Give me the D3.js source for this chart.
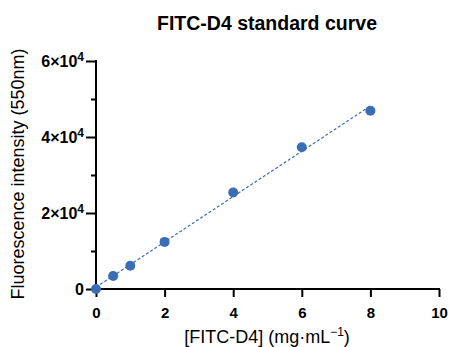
<!DOCTYPE html>
<html>
<head>
<meta charset="utf-8">
<script src="https://cdn.jsdelivr.net/npm/d3@7"></script>
<style>
  body { margin: 0; background: #fff; }
  text { font-family: "Liberation Sans", Arial, sans-serif; }
</style>
</head>
<body>
<script>
const width = 449;
const height = 347;

// data
const conc = [0, 0.5, 1, 2, 4, 6, 8];
const fluor = [0, 3400, 6100, 12400, 25400, 37300, 46900];
const xTicks = [0, 2, 4, 6, 8, 10];
const yMajor = [0, 20000, 40000, 60000];
const yMinor = [10000, 30000, 50000];

const color = "#3b6db5";

let svg = d3.select("body").append("svg").attr("width", width).attr("height", height);

let x = d3.scaleLinear().domain([0, 10]).range([96, 439]);
let y = d3.scaleLinear().domain([0, 60000]).range([289, 61]);

// linear regression for the dashed fit line
const n = conc.length;
const mx = d3.mean(conc), my = d3.mean(fluor);
let sxy = 0, sxx = 0;
for (let i = 0; i < n; i++) {
    sxy += (conc[i] - mx) * (fluor[i] - my);
    sxx += (conc[i] - mx) * (conc[i] - mx);
}
const slope = sxy / sxx;
const intercept = my - slope * mx;

// axes
let xAxis = svg.append("g").attr("transform", "translate(0,289)")
    .call(d3.axisBottom(x).tickValues(xTicks).tickSize(8).tickPadding(10).tickFormat(d3.format("d")));
let yAxis = svg.append("g").attr("transform", "translate(96,0)")
    .call(d3.axisLeft(y).tickValues(yMajor).tickSize(10).tickFormat(""));
let yMinorAxis = svg.append("g").attr("transform", "translate(96,0)")
    .call(d3.axisLeft(y).tickValues(yMinor).tickSize(5).tickFormat(""));

svg.selectAll(".domain").attr("stroke", "#000").attr("stroke-width", 2);
svg.selectAll(".tick line").attr("stroke", "#000").attr("stroke-width", 2);
yMinorAxis.select(".domain").remove();
// plain axis lines without outer ticks
xAxis.select(".domain").attr("d", "M95,0H440");
yAxis.select(".domain").attr("d", "M0,290V60");

xAxis.selectAll(".tick text")
    .attr("font-size", 15).attr("font-weight", "bold").attr("fill", "#000")
    .attr("font-family", "Liberation Sans, Arial, sans-serif");

// y tick labels with superscript exponent
yAxis.selectAll(".tick").each(function(d) {
    let t = d3.select(this).select("text")
        .attr("font-size", 16).attr("font-weight", "bold").attr("fill", "#000")
        .attr("font-family", "Liberation Sans, Arial, sans-serif")
        .attr("x", -12).attr("dy", "0.36em");
    if (d === 0) {
        t.text("0");
    } else {
        t.text(null);
        t.append("tspan").text((d / 10000) + "×10");
        t.append("tspan").attr("dy", "-6").attr("font-size", 12).text("4");
    }
});

// fit line
svg.append("line")
    .attr("x1", x(0)).attr("y1", y(intercept))
    .attr("x2", x(8)).attr("y2", y(intercept + slope * 8))
    .attr("stroke", color).attr("stroke-width", 1.2)
    .attr("stroke-dasharray", "3,2");

// points
svg.append("g").selectAll("circle")
    .data(conc)
    .enter()
    .append("circle")
    .attr("cx", d => x(d))
    .attr("cy", (d, i) => y(fluor[i]))
    .attr("r", 5)
    .attr("fill", color);

// title
svg.append("text")
    .attr("x", 267).attr("y", 30)
    .attr("text-anchor", "middle")
    .attr("font-size", 19.5).attr("font-weight", "bold")
    .text("FITC-D4 standard curve");

// x label
let xl = svg.append("text")
    .attr("x", 267).attr("y", 343)
    .attr("text-anchor", "middle")
    .attr("font-size", 18);
xl.append("tspan").text("[FITC-D4] (mg·mL");
xl.append("tspan").attr("dy", -7).attr("font-size", 12).text("−1");
xl.append("tspan").attr("dy", 7).text(")");

// y label
svg.append("text")
    .attr("transform", "translate(24,174) rotate(-90)")
    .attr("text-anchor", "middle")
    .attr("font-size", 18)
    .text("Fluorescence intensity (550nm)");
</script>
</body>
</html>
